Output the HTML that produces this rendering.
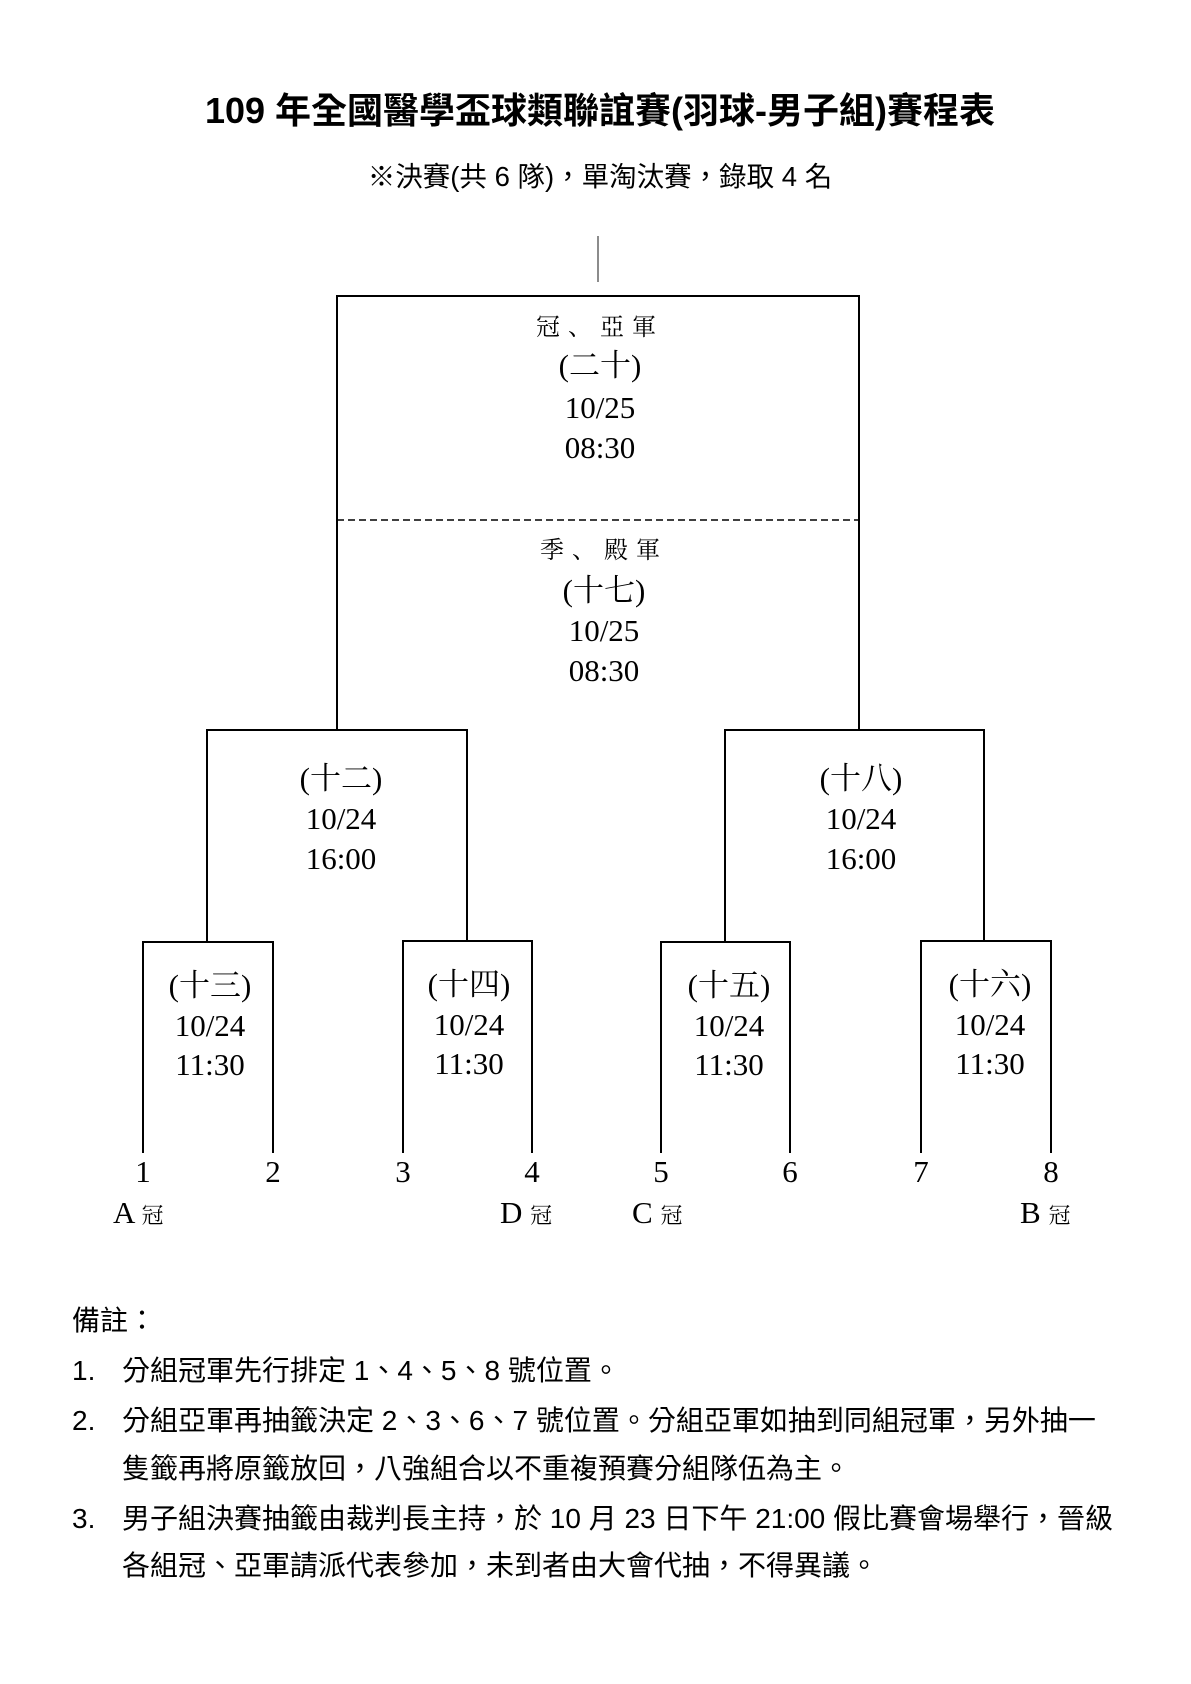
<!DOCTYPE html>
<html><head><meta charset="utf-8"><style>
html,body{margin:0;padding:0;background:#fff;}
body{width:1191px;height:1684px;position:relative;overflow:hidden;}
.s{font-family:"Liberation Sans","Noto Sans CJK TC",sans-serif;position:absolute;white-space:nowrap;color:#000;}
.n{font-size:28px;line-height:32px;}
</style></head><body>
<div class="s" style="left:0;width:1200px;text-align:center;top:88px;font-size:36px;font-weight:bold;line-height:46px;">109 年全國醫學盃球類聯誼賽(羽球-男子組)賽程表</div>
<div class="s" style="left:0;width:1200px;text-align:center;top:161px;font-size:27.5px;line-height:32px;">※決賽(共 6 隊)，單淘汰賽，錄取 4 名</div>
<svg width="1191" height="1684" style="position:absolute;left:0;top:0" xmlns="http://www.w3.org/2000/svg">
<g stroke="#000" stroke-width="2" fill="none">
<line x1="598" y1="236" x2="598" y2="282" stroke="#666" stroke-width="1.5"/>
<polyline points="337,730 337,296 859,296 859,730"/>
<line x1="337" y1="520" x2="859" y2="520" stroke-dasharray="7,4" stroke-width="1.5"/>
<polyline points="207,941 207,730 467,730 467,941"/>
<polyline points="725,941 725,730 984,730 984,941"/>
<polyline points="143,1153 143,942 273,942 273,1153"/>
<polyline points="403,1153 403,941 532,941 532,1153"/>
<polyline points="661,1153 661,942 790,942 790,1153"/>
<polyline points="921,1153 921,941 1051,941 1051,1153"/>
</g>
<g font-family="Liberation Serif,'Noto Serif CJK SC',serif" font-size="31" text-anchor="middle" fill="#000">
<text x="600" y="335" font-size="24" letter-spacing="8">冠、亞軍</text>
<text x="600" y="376">(二十)</text>
<text x="600" y="418">10/25</text>
<text x="600" y="458">08:30</text>
<text x="604" y="558" font-size="24" letter-spacing="8">季、殿軍</text>
<text x="604" y="601">(十七)</text>
<text x="604" y="641">10/25</text>
<text x="604" y="681">08:30</text>
<text x="341" y="789">(十二)</text>
<text x="341" y="829">10/24</text>
<text x="341" y="869">16:00</text>
<text x="861" y="789">(十八)</text>
<text x="861" y="829">10/24</text>
<text x="861" y="869">16:00</text>
<text x="210" y="996">(十三)</text><text x="210" y="1036">10/24</text><text x="210" y="1075">11:30</text>
<text x="469" y="995">(十四)</text><text x="469" y="1035">10/24</text><text x="469" y="1074">11:30</text>
<text x="729" y="996">(十五)</text><text x="729" y="1036">10/24</text><text x="729" y="1075">11:30</text>
<text x="990" y="995">(十六)</text><text x="990" y="1035">10/24</text><text x="990" y="1074">11:30</text>
<text x="143" y="1182">1</text><text x="273" y="1182">2</text><text x="403" y="1182">3</text><text x="532" y="1182">4</text>
<text x="661" y="1182">5</text><text x="790" y="1182">6</text><text x="921" y="1182">7</text><text x="1051" y="1182">8</text>
<g text-anchor="start">
<text x="113" y="1223">A <tspan font-size="22">冠</tspan></text>
<text x="500" y="1223">D <tspan font-size="22">冠</tspan></text>
<text x="632" y="1223">C <tspan font-size="22">冠</tspan></text>
<text x="1020" y="1223">B <tspan font-size="22">冠</tspan></text>
</g>
</g>
</svg>
<div class="s n" style="left:72px;top:1305px;">備註：</div>
<div class="s n" style="left:72px;top:1355px;">1.</div>
<div class="s n" style="left:122px;top:1355px;">分組冠軍先行排定 1、4、5、8 號位置。</div>
<div class="s n" style="left:72px;top:1405px;">2.</div>
<div class="s n" style="left:122px;top:1405px;">分組亞軍再抽籤決定 2、3、6、7 號位置。分組亞軍如抽到同組冠軍，另外抽一</div>
<div class="s n" style="left:122px;top:1453px;">隻籤再將原籤放回，八強組合以不重複預賽分組隊伍為主。</div>
<div class="s n" style="left:72px;top:1503px;">3.</div>
<div class="s n" style="left:122px;top:1503px;">男子組決賽抽籤由裁判長主持，於 10 月 23 日下午 21:00 假比賽會場舉行，晉級</div>
<div class="s n" style="left:122px;top:1550px;">各組冠、亞軍請派代表參加，未到者由大會代抽，不得異議。</div>
</body></html>
